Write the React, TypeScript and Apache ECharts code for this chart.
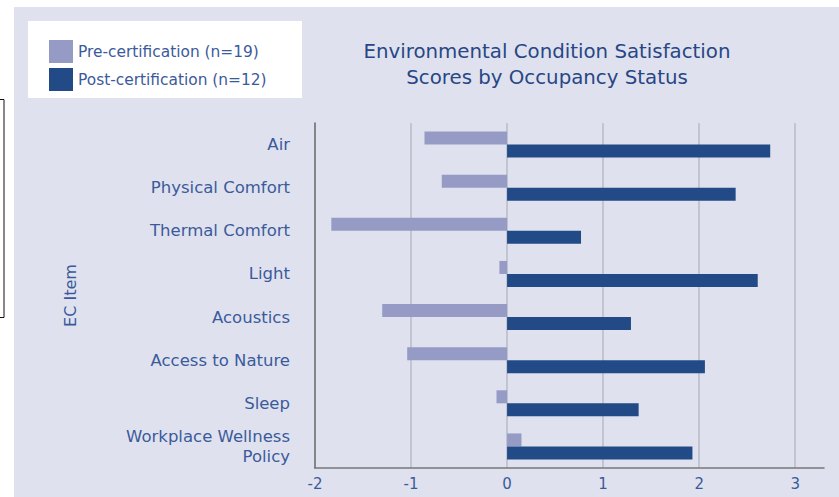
import React, { useEffect, useRef } from "react";
import * as echarts from "echarts";

const categories = [
  "Air",
  "Physical Comfort",
  "Thermal Comfort",
  "Light",
  "Acoustics",
  "Access to Nature",
  "Sleep",
  "Workplace Wellness\nPolicy",
];
const preCertification = [-0.86, -0.68, -1.83, -0.08, -1.3, -1.04, -0.11, 0.15];
const postCertification = [2.74, 2.38, 0.77, 2.61, 1.29, 2.06, 1.37, 1.93];
const gridValues = [-1, 0, 1, 2, 3];
const seriesNames = ["Pre-certification (n=19)", "Post-certification (n=12)"];
const titleText = "Environmental Condition Satisfaction\nScores by Occupancy Status";

const TEXT = "#3b5a9b";
const FONT = "DejaVu Sans";

export default function App() {
  const ref = useRef<HTMLDivElement>(null);
  useEffect(() => {
    if (!ref.current) return;
    const chart = echarts.init(ref.current, null, { renderer: "svg" });
    chart.setOption({
      animation: false,
      backgroundColor: "#ffffff",
      textStyle: { fontFamily: FONT },
      graphic: [
        {
          type: "rect",
          z: -10,
          shape: { x: 14, y: 7, width: 830, height: 495 },
          style: { fill: "#dfe2ee" },
        },
        {
          type: "rect",
          z: -9,
          shape: { x: 28, y: 21, width: 274, height: 77 },
          style: { fill: "#ffffff" },
        },
        {
          type: "rect",
          z: -9,
          shape: { x: -5, y: 99.5, width: 9, height: 218 },
          style: { fill: "none", stroke: "#111111", lineWidth: 1 },
        },
      ],
      title: {
        text: titleText,
        left: 542,
        top: 33,
        textAlign: "center",
        textStyle: {
          color: "#284685",
          fontSize: 19.8,
          fontWeight: "normal",
          lineHeight: 26,
          fontFamily: FONT,
        },
      },
      legend: {
        orient: "vertical",
        left: 44,
        top: 35,
        itemWidth: 24,
        itemHeight: 23,
        itemGap: 5,
        icon: "rect",
        data: seriesNames,
        textStyle: { color: TEXT, fontSize: 15.4, fontFamily: FONT },
      },
      grid: { left: 315, right: 15, top: 123, bottom: 29, containLabel: false },
      xAxis: {
        type: "value",
        min: -2,
        max: 3.3,
        interval: 1,
        axisLine: { show: true, onZero: false, lineStyle: { color: "#777777", width: 1.5 } },
        axisTick: { show: false },
        splitLine: { show: false },
        axisLabel: {
          color: TEXT,
          fontSize: 15,
          margin: 8,
          fontFamily: FONT,
          formatter: (v: number) => (Number.isInteger(v) ? String(v) : ""),
        },
      },
      yAxis: {
        type: "category",
        inverse: true,
        data: categories,
        name: "EC Item",
        nameLocation: "middle",
        nameGap: 237,
        nameRotate: 90,
        nameTextStyle: { color: TEXT, fontSize: 16, fontFamily: FONT },
        axisLine: { show: true, onZero: false, lineStyle: { color: "#666666", width: 1.5 } },
        axisTick: { show: false },
        axisLabel: {
          color: TEXT,
          fontSize: 16.5,
          margin: 25,
          lineHeight: 20,
          fontFamily: FONT,
        },
      },
      series: [
        {
          name: seriesNames[0],
          type: "bar",
          data: preCertification,
          barWidth: 13,
          barGap: "0%",
          itemStyle: { color: "#959bc4" },
          markLine: {
            silent: true,
            symbol: "none",
            label: { show: false },
            lineStyle: { color: "#b9bbc6", width: 1.5, type: "solid" },
            data: gridValues.map((v) => ({ xAxis: v })),
            z: 0,
          },
          z: 2,
        },
        {
          name: seriesNames[1],
          type: "bar",
          data: postCertification,
          barWidth: 13,
          itemStyle: { color: "#214a87" },
          z: 2,
        },
      ],
    });
    return () => chart.dispose();
  }, []);
  return (
    <div
      ref={ref}
      style={{ position: "fixed", left: 0, top: 0, width: 839, height: 497 }}
    />
  );
}
